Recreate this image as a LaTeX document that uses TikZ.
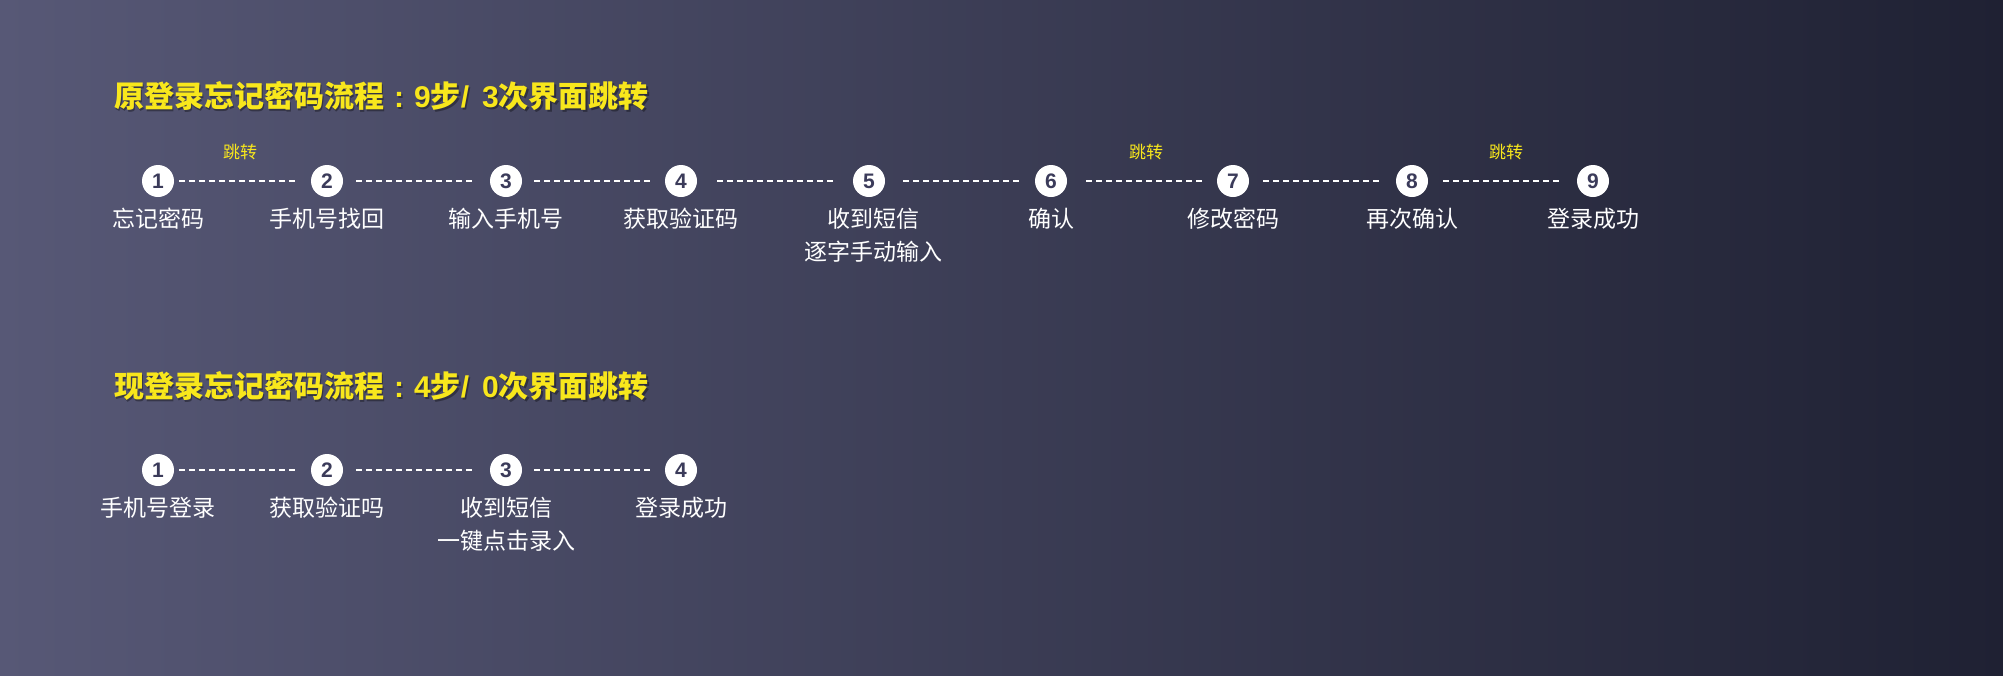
\documentclass[tikz,border=0pt]{standalone}
\usepackage{fontspec}
\setmainfont{Noto Sans CJK SC}
\newfontfamily\digitfont{Liberation Sans}
\usetikzlibrary{calc}
\definecolor{bgL}{HTML}{575876}
\definecolor{bgR}{HTML}{1F2133}
\definecolor{ttl}{HTML}{F8E71C}
\definecolor{numc}{HTML}{3B3B5A}
\newcommand{\ttlcolon}{\makebox[30pt][c]{\digitfont :}}
\newcommand{\ttlslash}{{\digitfont /}\hspace{13pt}}
\tikzset{
  stepdot/.style={circle,fill=white,minimum size=32pt,inner sep=0pt,text=numc,font=\digitfont\bfseries\fontsize{21}{21}\selectfont},
  lbl/.style={text=white,font=\fontsize{23}{33}\selectfont,align=center,anchor=north,inner sep=0pt},
  jump/.style={text=ttl,font=\fontsize{17}{17}\selectfont,inner sep=0pt},
  ttlstyle/.style={text=ttl,font=\bfseries\fontsize{30}{30}\selectfont,anchor=west,inner sep=0pt},
  ttlshadow/.style={text=black,text opacity=0.35,font=\bfseries\fontsize{30}{30}\selectfont,anchor=west,inner sep=0pt},
  dashline/.style={white,line width=2pt,dash pattern=on 6pt off 4pt}
}
\begin{document}
\begin{tikzpicture}[x=1pt,y=-1pt]
\useasboundingbox (0,0) rectangle (2003,675);
\shade[left color=bgL,right color=bgR,shading angle=90] (0,0) rectangle (2003,675);
% titles
\node[ttlshadow] (t1s) at (115.5,98) {原登录忘记密码流程\ttlcolon{\digitfont 9}步\ttlslash{\digitfont 3}次界面跳转};
\node[ttlstyle] (t1) at (114,96) {原登录忘记密码流程\ttlcolon{\digitfont 9}步\ttlslash{\digitfont 3}次界面跳转};
\node[ttlshadow] (t2s) at (115.5,388) {现登录忘记密码流程\ttlcolon{\digitfont 4}步\ttlslash{\digitfont 0}次界面跳转};
\node[ttlstyle] (t2) at (114,386) {现登录忘记密码流程\ttlcolon{\digitfont 4}步\ttlslash{\digitfont 0}次界面跳转};
% row 1
\foreach \i/\x in {1/158,2/327,3/506,4/681,5/869,6/1051,7/1233,8/1412,9/1593}{
  \node[stepdot] (a\i) at (\x,181) {\i};
}
\draw[dashline,shorten <=5pt,shorten >=15pt] (a1) -- (a2);
\draw[dashline,shorten <=13pt,shorten >=16pt] (a2) -- (a3);
\draw[dashline,shorten <=12pt,shorten >=14pt] (a3) -- (a4);
\draw[dashline,shorten <=20pt,shorten >=19pt] (a4) -- (a5);
\draw[dashline,shorten <=18pt,shorten >=14pt] (a5) -- (a6);
\draw[dashline,shorten <=19pt,shorten >=14pt] (a6) -- (a7);
\draw[dashline,shorten <=14pt,shorten >=15pt] (a7) -- (a8);
\draw[dashline,shorten <=15pt,shorten >=16pt] (a8) -- (a9);
\node[jump] (j1) at (240,152) {跳转};
\node[jump] (j2) at (1146,152) {跳转};
\node[jump] (j3) at (1506,152) {跳转};
\node[lbl] (l1) at (158,208) {忘记密码};
\node[lbl] (l2) at (327,208) {手机号找回};
\node[lbl] (l3) at (506,208) {输入手机号};
\node[lbl] (l4) at (681,208) {获取验证码};
\node[lbl] (l5) at (873,208) {收到短信\\逐字手动输入};
\node[lbl] (l6) at (1051,208) {确认};
\node[lbl] (l7) at (1233,208) {修改密码};
\node[lbl] (l8) at (1412,208) {再次确认};
\node[lbl] (l9) at (1593,208) {登录成功};
% row 2
\foreach \i/\x in {1/158,2/327,3/506,4/681}{
  \node[stepdot] (b\i) at (\x,470) {\i};
}
\draw[dashline,shorten <=5pt,shorten >=15pt] (b1) -- (b2);
\draw[dashline,shorten <=13pt,shorten >=16pt] (b2) -- (b3);
\draw[dashline,shorten <=12pt,shorten >=14pt] (b3) -- (b4);
\node[lbl] (m1) at (158,497) {手机号登录};
\node[lbl] (m2) at (327,497) {获取验证吗};
\node[lbl] (m3) at (506,497) {收到短信\\一键点击录入};
\node[lbl] (m4) at (681,497) {登录成功};
\end{tikzpicture}
\end{document}
